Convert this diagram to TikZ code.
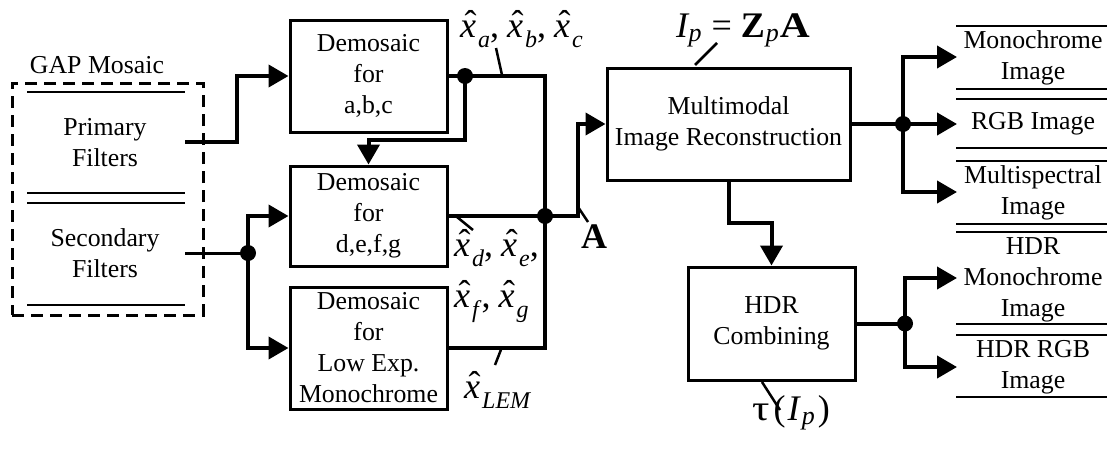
\documentclass[tikz,border=0pt]{standalone}
\usepackage{fontspec}
\usepackage{graphicx}
\setmainfont{Liberation Serif}
\usetikzlibrary{arrows.meta}
\newcommand\xhat{{\ooalign{\textit{x}\cr\hidewidth\kern0.14em\raisebox{0.05em}{\char"02C6}\hidewidth\cr}}}
\newcommand\lsub[1]{\raisebox{-0.28em}{\fontsize{24}{24}\selectfont\textit{#1}}}
\newcommand\psub[1]{\raisebox{-0.12em}{\fontsize{26}{26}\selectfont\textit{#1}}}
\newcommand\xs[1]{\xhat\kern2pt\lsub{#1}}
\begin{document}
\begin{tikzpicture}[x=1pt,y=-1pt,
  txt/.style={font=\fontsize{25.8}{31}\selectfont, align=center, inner sep=0pt},
  box/.style={draw, line width=3pt, txt},
  conn/.style={line width=4pt},
  arr/.style={conn, -{Triangle[length=20pt,width=22pt]}},
  thinl/.style={line width=2.5pt},
  lead/.style={line width=2.5pt},
  dot/.style={circle, fill, inner sep=0pt, minimum size=16pt},
  mlab/.style={font=\fontsize{36}{40}\selectfont, inner sep=0pt}
]
\useasboundingbox (0,0) rectangle (1107,453);

% GAP mosaic
\node[draw, line width=3pt, dash pattern=on 12pt off 7pt, minimum width=191pt, minimum height=232pt, inner sep=0pt] (gap) at (107.5,199) {};
\node[txt] (gapt) at (97,65) {GAP Mosaic};
\coordinate (g1a) at (27,92);  \coordinate (g1b) at (185,92);
\coordinate (g2a) at (27,193); \coordinate (g2b) at (185,193);
\coordinate (g3a) at (27,203); \coordinate (g3b) at (185,203);
\coordinate (g4a) at (27,305); \coordinate (g4b) at (185,305);
\draw[thinl] (g1a) -- (g1b);
\draw[thinl] (g2a) -- (g2b);
\draw[thinl] (g3a) -- (g3b);
\draw[thinl] (g4a) -- (g4b);
\node[txt] (prim) at (105,143) {Primary\\Filters};
\node[txt] (sec) at (105,253) {Secondary\\Filters};
\coordinate (pout) at (185,142);
\coordinate (sout) at (185,253);

% demosaic boxes
\node[box, minimum width=157pt, minimum height=112pt] (b1) at (368.5,76) {Demosaic\\for\\a,b,c};
\node[box, minimum width=157pt, minimum height=100pt] (b2) at (368.5,216) {Demosaic\\for\\d,e,f,g};
\node[box, minimum width=157pt, minimum height=122pt] (b3) at (368.5,348) {Demosaic\\for\\Low Exp.\\Monochrome};

% reconstruction and HDR
\node[box, minimum width=243pt, minimum height=112pt] (mm) at (728.5,124) {Multimodal\\Image Reconstruction};
\node[box, minimum width=167pt, minimum height=113pt] (hdr) at (771.5,323.5) {HDR\\Combining};

% junctions
\coordinate (j2) at (248,253);
\coordinate (j1) at (465,76);
\coordinate (j3) at (545,216);
\coordinate (j4) at (903,124);
\coordinate (j5) at (905,323.5);

% connectors left
\draw[arr] (pout) -- (237,142) |- (b1.west);
\draw[line width=3pt] (sout) -- (j2);
\draw[arr] (j2) |- (b2.west);
\draw[arr] (j2) |- (b3.west);
\draw[conn] (b1.east) -- (j1) -- (545,76) -- (j3);
\draw[arr] (j1) -- (465,140) -| (b2.north);
\draw[conn] (b3.east) -| (j3);
\draw[arr] (b2.east) -- (j3) -- (578,216) |- (mm.west);
\draw[arr] (mm.south) -- (728.5,223) -| (hdr.north);

% outputs
\coordinate (o1) at (957,57);
\coordinate (o2) at (957,124);
\coordinate (o3) at (957,192);
\coordinate (o4) at (957,278);
\coordinate (o5) at (957,367);
\draw[conn] (mm.east) -- (j4);
\draw[arr] (j4) |- (o1);
\draw[arr] (j4) -- (o2);
\draw[arr] (j4) |- (o3);
\draw[conn] (hdr.east) -- (j5);
\draw[arr] (j5) |- (o4);
\draw[arr] (j5) |- (o5);

\foreach \y [count=\i] in {26,89,99,148,161,224,232,324,335,397}
  {\coordinate (la\i) at (956,\y); \coordinate (lb\i) at (1107,\y);
   \draw[thinl] (la\i) -- (lb\i);}
\node[txt] (t1) at (1033,58) {Monochrome\\Image};
\node[txt] (t2) at (1033,124) {RGB Image};
\node[txt] (t3) at (1033,193) {Multispectral\\Image};
\node[txt] (t4) at (1033,280) {HDR\\Monochrome\\Image};
\node[txt] (t5) at (1033,367.5) {HDR RGB\\Image};

% dots
\foreach \j in {j1,j2,j3,j4,j5} \node[dot] at (\j) {};

% labels
\node[mlab, anchor=base west] (lxa) at (460,37) {\xs{a},\kern8pt\xs{b},\kern8pt\xs{c}};
\node[mlab, anchor=base west] (lxd) at (454,256) {\xs{d},\kern8pt\xs{e},};
\node[mlab, anchor=base west] (lxf) at (454,307) {\xs{f},\kern8pt\xs{g}};
\node[mlab, anchor=base west] (lxl) at (464,398) {\xs{LEM}};
\node[mlab, anchor=base west] (lA) at (581,248) {\textbf{A}};
\node[mlab, anchor=base west] (lIp) at (676,37) {\textit{I}\kern-1pt\psub{p}\kern10pt=\kern9pt\textbf{Z}\kern1pt\psub{p}\kern1pt\scalebox{1.15}[1]{\textbf{A}}};
\node[mlab, anchor=base west] (ltau) at (752,420) {\scalebox{1.2}[1]{τ}\kern4pt(\kern2pt\textit{I}\kern1pt\psub{p}\kern3pt)};

\coordinate (k1a) at (496,48);  \coordinate (k1b) at (502,75);
\coordinate (k2a) at (457,217); \coordinate (k2b) at (473,230);
\coordinate (k3a) at (502,347); \coordinate (k3b) at (495,365);
\coordinate (k4a) at (578,207); \coordinate (k4b) at (588,222);
\coordinate (k5a) at (695,65);  \coordinate (k5b) at (717,43);
\coordinate (k6a) at (762,382); \coordinate (k6b) at (780,410);
\foreach \k in {1,...,6} \draw[lead] (k\k a) -- (k\k b);
\end{tikzpicture}
\end{document}
